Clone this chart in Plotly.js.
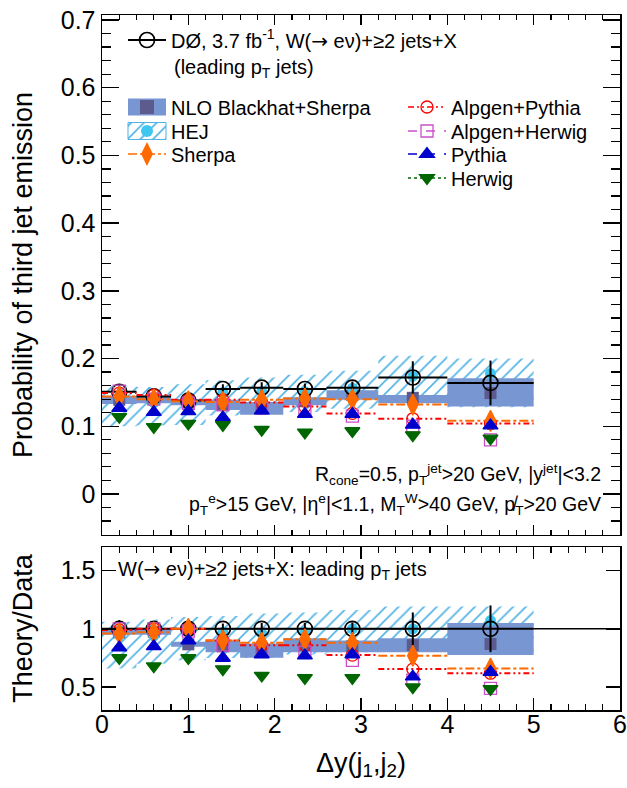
<!DOCTYPE html>
<html><head><meta charset="utf-8">
<script src="https://cdn.plot.ly/plotly-3.0.1.min.js"></script>
<style>body{margin:0;padding:0;background:#fff}</style>
</head><body><div id="chart" style="width:627px;height:788px"></div>
<script>
// ---- binning (Δy(j1,j2)) ----
const binLo     = [0.0, 0.4, 0.8, 1.2, 1.6, 2.1, 2.6, 3.2, 4.0];
const binHi     = [0.4, 0.8, 1.2, 1.6, 2.1, 2.6, 3.2, 4.0, 5.0];
const binCenter = [0.2, 0.6, 1.0, 1.4, 1.85, 2.35, 2.9, 3.6, 4.5];

// ---- top panel: probability of third jet emission ----
const dataProb   = [0.151, 0.144, 0.138, 0.155, 0.157, 0.155, 0.157, 0.172, 0.164];
const dataErr    = [0.011, 0.008, 0.007, 0.007, 0.008, 0.008, 0.009, 0.024, 0.033];
const nloLo      = [0.133, 0.134, 0.131, 0.124, 0.117, 0.131, 0.139, 0.134, 0.129];
const nloHi      = [0.145, 0.145, 0.139, 0.139, 0.136, 0.143, 0.153, 0.146, 0.171];
const nloCentral = [0.139, 0.140, 0.135, 0.131, 0.126, 0.137, 0.146, 0.142, 0.149];
const hejLo      = [0.100, 0.101, 0.102, 0.116, 0.118, 0.121, 0.126, 0.139, 0.128];
const hejHi      = [0.160, 0.158, 0.162, 0.168, 0.172, 0.176, 0.182, 0.204, 0.200];
const hejProb    = [0.143, 0.135, 0.137, 0.150, 0.151, 0.151, 0.156, 0.174, 0.178];
const sherpaProb = [0.144, 0.140, 0.137, 0.136, 0.139, 0.141, 0.140, 0.132, 0.108];
const alpPyProb  = [0.149, 0.146, 0.139, 0.139, 0.135, 0.129, 0.119, 0.111, 0.104];
const alpHwProb  = [0.152, 0.140, 0.134, 0.132, 0.127, 0.124, 0.115, 0.100, 0.080];
const pythiaProb = [0.127, 0.121, 0.122, 0.113, 0.123, 0.118, 0.118, 0.102, 0.101];
const herwigProb = [0.114, 0.099, 0.104, 0.102, 0.095, 0.091, 0.093, 0.087, 0.082];

// ---- bottom panel: theory / data ----
const dataRatio       = [1, 1, 1, 1, 1, 1, 1, 1, 1];
const dataRatioErr    = [0.075, 0.055, 0.05, 0.045, 0.05, 0.05, 0.055, 0.14, 0.2];
const nloRatioLo      = [0.95, 0.95, 0.846, 0.80, 0.752, 0.80, 0.80, 0.80, 0.775];
const nloRatioHi      = [0.99, 1.00, 0.889, 0.90, 0.875, 0.92, 0.90, 0.92, 1.05];
const nloRatioCentral = [0.97, 0.975, 0.867, 0.85, 0.81, 0.86, 0.85, 0.86, 0.87];
const hejRatioLo      = [0.66, 0.70, 0.73, 0.75, 0.75, 0.78, 0.80, 0.81, 0.78];
const hejRatioHi      = [1.06, 1.08, 1.10, 1.11, 1.13, 1.14, 1.16, 1.19, 1.19];
const hejRatio        = [0.945, 0.94, 0.99, 0.97, 0.96, 0.97, 1.0, 1.0, 1.07];
const sherpaRatio     = [0.96, 0.97, 1.0, 0.90, 0.88, 0.91, 0.88, 0.77, 0.66];
const alpPyRatio      = [0.99, 1.0, 1.0, 0.90, 0.86, 0.86, 0.775, 0.655, 0.62];
const alpHwRatio      = [1.0, 1.0, 0.98, 0.86, 0.81, 0.80, 0.73, 0.56, 0.49];
const pythiaRatio     = [0.84, 0.85, 0.90, 0.75, 0.78, 0.77, 0.78, 0.59, 0.63];
const herwigRatio     = [0.75, 0.68, 0.75, 0.655, 0.60, 0.58, 0.58, 0.50, 0.485];

// ---- labels ----
const ARROW = '<span style="font-family:DejaVu Sans">→</span>';
const labelData   = 'DØ, 3.7 fb<sup>-1</sup>, W(' + ARROW + ' eν)+≥2 jets+X';
const labelData2  = '(leading p<sub>T</sub> jets)';
const labelNLO    = 'NLO Blackhat+Sherpa';
const labelHEJ    = 'HEJ';
const labelSherpa = 'Sherpa';
const labelAlpPy  = 'Alpgen+Pythia';
const labelAlpHw  = 'Alpgen+Herwig';
const labelPythia = 'Pythia';
const labelHerwig = 'Herwig';
const cutsLine1 = 'R<sub>cone</sub>=0.5, p<sub>T</sub><sup>jet</sup>&gt;20 GeV, |y<sup>jet</sup>|&lt;3.2';
const cutsLine2 = 'p<sub>T</sub><sup>e</sup>&gt;15 GeV, |η<sup>e</sup>|&lt;1.1, M<sub>T</sub><sup>W</sup>&gt;40 GeV, p\u0338<sub>T</sub>&gt;20 GeV';
const ratioLabel = 'W(' + ARROW + ' eν)+≥2 jets+X: leading p<sub>T</sub> jets';

// ---- colours ----
const C = {nlo:'#7896d2', nloDark:'#5d5a8e', hej:'#4fb1e4', hejMk:'#3fc6f1', sherpa:'#ff6a00',
           alpPy:'#ff0000', alpHw:'#cc4fcc', pythia:'#0000cc', herwig:'#006600'};
const FONT = 'Liberation Sans, Arial, Helvetica, sans-serif';

// ---- helpers (build geometry from arrays) ----
const gap = arr => { const o = []; arr.forEach((v,i)=>{ if(i) o.push(null); o.push(v); }); return o; };
const segX = () => { const o=[]; binLo.forEach((l,i)=>{ o.push(l, binHi[i], null); }); return o; };
const segY = v => { const o=[]; v.forEach(y=>{ o.push(y, y, null); }); return o; };
const boxX = () => { const o=[]; binLo.forEach((l,i)=>{ const h=binHi[i]; o.push(l,h,h,l,l,null); }); return o; };
const boxY = (lo,hi) => { const o=[]; lo.forEach((b,i)=>{ const t=hi[i]; o.push(b,b,t,t,b,null); }); return o; };
const bandX = () => { const o=[]; binLo.forEach((l,i)=>o.push(l,binHi[i])); for(let i=binLo.length-1;i>=0;i--) o.push(binHi[i],binLo[i]); return o; };
const bandY = (lo,hi) => { const o=[]; hi.forEach(v=>o.push(v,v)); for(let i=lo.length-1;i>=0;i--) o.push(lo[i],lo[i]); return o; };

const APDASH = '6px,3px,2px,3px,2px,3px';

function panel(xa, ya, p, leg) {
  const tr = [];
  const L = k => leg ? {legend: k, showlegend: true} : {showlegend: false};
  // HEJ hatched band
  tr.push(Object.assign({type:'scatter', xaxis:xa, yaxis:ya, name:labelHEJ, x:bandX(), y:bandY(p.hejLo,p.hejHi),
    fill:'toself', fillcolor:'rgba(0,0,0,0)',
    fillpattern:{shape:'/', fgcolor:C.hej, bgcolor:'rgba(0,0,0,0)', size:9, solidity:0.18},
    mode:'markers', marker:{symbol:'circle', size:12, color:C.hejMk},
    selectedpoints:[], unselected:{marker:{opacity:0}}, line:{width:0}, hoverinfo:'skip'}, L('legend3')));
  // NLO boxes
  tr.push(Object.assign({type:'scatter', xaxis:xa, yaxis:ya, name:labelNLO, x:boxX(), y:boxY(p.nloLo,p.nloHi),
    fill:'toself', fillcolor:C.nlo, mode:'markers', marker:{symbol:'square', size:14, color:C.nloDark},
    selectedpoints:[], unselected:{marker:{opacity:0}}, line:{width:0}, hoverinfo:'skip'}, L('legend2')));
  tr.push({type:'scatter', xaxis:xa, yaxis:ya, x:binCenter, y:p.nloC, mode:'markers', showlegend:false,
    marker:{symbol:'square', size:12, color:C.nloDark}});
  // HEJ markers
  tr.push({type:'scatter', xaxis:xa, yaxis:ya, x:binCenter, y:p.hej, mode:'markers', showlegend:false,
    marker:{symbol:'circle', size:11, color:C.hejMk}});
  // data
  const ep = binCenter.map((c,i)=>binHi[i]-c), em = binCenter.map((c,i)=>c-binLo[i]);
  tr.push(Object.assign({type:'scatter', xaxis:xa, yaxis:ya, name:labelData, x:gap(binCenter), y:gap(p.data),
    mode:'lines+markers', line:{color:'black', width:2},
    marker:{symbol:'circle-open', size:15, color:'black', line:{width:1.7, color:'black'}},
    error_x:{type:'data', symmetric:false, array:gap(ep), arrayminus:gap(em), width:0, thickness:2, color:'black'},
    error_y:{type:'data', array:gap(p.dataErr), width:0, thickness:2, color:'black'}}, L('legend')));
  // step lines
  tr.push({type:'scatter', xaxis:xa, yaxis:ya, x:segX(), y:segY(p.alpPy), mode:'lines', showlegend:false,
    line:{color:C.alpPy, width:2, dash:APDASH}, hoverinfo:'skip'});
  tr.push({type:'scatter', xaxis:xa, yaxis:ya, x:segX(), y:segY(p.sherpa), mode:'lines', showlegend:false,
    line:{color:C.sherpa, width:2, dash:'dashdot'}, hoverinfo:'skip'});
  // MC markers
  const mc = [
    [labelAlpPy, p.alpPy, C.alpPy, 'circle-open', 12, APDASH, 'legend5'],
    [labelAlpHw, p.alpHw, C.alpHw, 'square-open', 12, 'dash', 'legend6'],
    [labelSherpa, p.sherpa, C.sherpa, 'diamond-tall', 15, 'dashdot', 'legend4'],
    [labelPythia, p.pythia, C.pythia, 'triangle-up', 13, 'dash', 'legend7'],
    [labelHerwig, p.herwig, C.herwig, 'triangle-down', 13, 'dot', 'legend8']];
  mc.forEach(([nm, v, col, sym, sz, dash, lg]) => {
    tr.push(Object.assign({type:'scatter', xaxis:xa, yaxis:ya, name:nm, x:gap(binCenter), y:gap(v),
      mode:'lines+markers', line:{color:col, width:1.6, dash:dash},
      marker:{symbol:sym, size:sz, color:col, line:{width:1.3, color:col}}}, L(lg)));
  });
  return tr;
}

const traces = [].concat(
  panel('x2', 'y', {hejLo, hejHi, hej:hejProb, nloLo, nloHi, nloC:nloCentral, data:dataProb, dataErr,
     alpPy:alpPyProb, sherpa:sherpaProb, alpHw:alpHwProb, pythia:pythiaProb, herwig:herwigProb}, true),
  panel('x', 'y2', {hejLo:hejRatioLo, hejHi:hejRatioHi, hej:hejRatio, nloLo:nloRatioLo, nloHi:nloRatioHi,
     nloC:nloRatioCentral, data:dataRatio, dataErr:dataRatioErr, alpPy:alpPyRatio, sherpa:sherpaRatio,
     alpHw:alpHwRatio, pythia:pythiaRatio, herwig:herwigRatio}, false)
);

// paper-coordinate helpers for the 627x788 frame
const PL = 102, PR = 620, PT = 15, PB = 710;
const px = v => (v - PL) / (PR - PL);
const py = v => 1 - (v - PT) / (PB - PT);
const legBase = {bgcolor:'rgba(0,0,0,0)', borderwidth:0, font:{family:FONT, size:20, color:'black'},
  xanchor:'left', yanchor:'middle', itemwidth:38, itemclick:false, itemdoubleclick:false, tracegroupgap:0};
const leg = (x, y) => Object.assign({}, legBase, {x:px(x), y:py(y)});

const axCommon = {showline:true, linecolor:'black', linewidth:1.5, mirror:'allticks', ticks:'inside',
  tickcolor:'black', tickwidth:1.5, showgrid:false, zeroline:false,
  tickfont:{family:FONT, size:25, color:'black'}};

const layout = {
  width:627, height:788, margin:{l:PL, r:627-PR, t:PT, b:788-PB},
  paper_bgcolor:'white', plot_bgcolor:'white', font:{family:FONT, color:'black'},
  xaxis: Object.assign({}, axCommon, {domain:[0,1], anchor:'y2', range:[0,6], tick0:0, dtick:1, ticklen:12,
    ticklabelstandoff:-9,
    minor:{dtick:0.2, ticks:'inside', ticklen:6, tickwidth:1.2, tickcolor:'black', showgrid:false},
    title:{text:'Δy(j<sub>1</sub>,j<sub>2</sub>)', font:{family:FONT, size:27}, standoff:16}}),
  xaxis2: Object.assign({}, axCommon, {domain:[0,1], anchor:'y', matches:'x', range:[0,6], tick0:0, dtick:1,
    ticklen:10, showticklabels:false,
    minor:{dtick:0.2, ticks:'inside', ticklen:5, tickwidth:1.2, tickcolor:'black', showgrid:false}}),
  yaxis: Object.assign({}, axCommon, {domain:[0.2518,1], anchor:'x2', range:[-0.0606,0.7074], tick0:0, dtick:0.1,
    ticklen:17, minor:{dtick:0.02, ticks:'inside', ticklen:9, tickwidth:1.2, tickcolor:'black', showgrid:false},
    title:{text:'Probability of third jet emission', font:{family:FONT, size:27}, standoff:20}}),
  yaxis2: Object.assign({}, axCommon, {domain:[0,0.2345], anchor:'x', range:[0.305,1.70], tick0:0, dtick:0.5,
    ticklen:14, title:{text:'Theory/Data', font:{family:FONT, size:27}, standoff:20}}),
  legend: leg(123, 40), legend2: leg(123, 107), legend3: leg(123, 131), legend4: leg(123, 154),
  legend5: leg(403, 107), legend6: leg(403, 131), legend7: leg(403, 154), legend8: leg(403, 178),
  shapes:[{type:'line', xref:'x domain', yref:'y2', x0:0, x1:1, y0:1, y1:1, line:{color:'black', width:1.5}, layer:'below'}],
  annotations:[
    {xref:'paper', yref:'paper', x:px(172), y:py(68), xanchor:'left', yanchor:'middle', showarrow:false,
     text:labelData2, font:{family:FONT, size:20, color:'black'}},
    {xref:'paper', yref:'paper', x:px(603), y:py(474), xanchor:'right', yanchor:'middle', showarrow:false,
     text:cutsLine1, font:{family:FONT, size:19.5, color:'black'}},
    {xref:'paper', yref:'paper', x:px(603), y:py(505), xanchor:'right', yanchor:'middle', showarrow:false,
     text:cutsLine2, font:{family:FONT, size:19.5, color:'black'}},
    {xref:'paper', yref:'paper', x:px(116), y:py(570), xanchor:'left', yanchor:'middle', showarrow:false,
     text:ratioLabel, font:{family:FONT, size:20, color:'black'}}
  ],
  showlegend:true
};

// enlarge the filled legend swatches (band / box entries) to the reference's box size
function styleLegendBoxes(gd) {
  gd.querySelectorAll('.legendfill path').forEach(p => {
    p.setAttribute('d', 'M5,-8.5h38v17h-38z');
    if (p.closest('.legend3')) { p.style.stroke = C.hej; p.style.strokeWidth = '1px'; }
  });
}
Plotly.newPlot('chart', traces, layout, {displayModeBar:false, staticPlot:true}).then(gd => {
  styleLegendBoxes(gd);
  gd.on('plotly_afterplot', () => styleLegendBoxes(gd));
});
</script></body></html>
